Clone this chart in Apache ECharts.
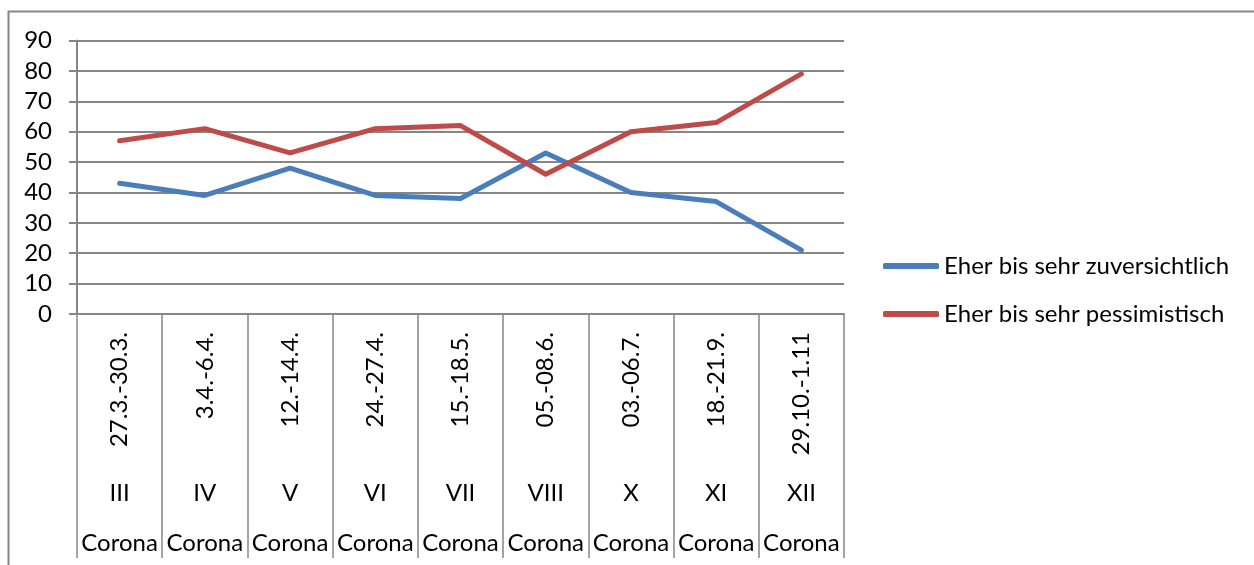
<!DOCTYPE html>
<html>
<head>
<meta charset="utf-8">
<script src="https://cdn.jsdelivr.net/npm/echarts@6/dist/echarts.min.js"></script>
<style>
  html, body { margin: 0; padding: 0; background: #fff; }
  #chart { width: 1254px; height: 565px; }
</style>
</head>
<body>
<div id="chart"></div>
<script>
// Survey waves: date range, wave number and study name
const dateRanges = ['27.3.-30.3.', '3.4.-6.4.', '12.-14.4.', '24.-27.4.', '15.-18.5.', '05.-08.6.', '03.-06.7.', '18.-21.9.', '29.10.-1.11'];
const waves = ['III', 'IV', 'V', 'VI', 'VII', 'VIII', 'X', 'XI', 'XII'];
const studies = ['Corona', 'Corona', 'Corona', 'Corona', 'Corona', 'Corona', 'Corona', 'Corona', 'Corona'];

// Share of respondents (%)
const confident = [43, 39, 48, 39, 38, 53, 40, 37, 21];
const pessimistic = [57, 61, 53, 61, 62, 46, 60, 63, 79];

const seriesNames = ['Eher bis sehr zuversichtlich', 'Eher bis sehr pessimistisch'];

const FONT = 'Lato';
const FS = 24;
const GRAY = '#868686';
const BLUE = '#4A7EBB';
const RED = '#BE4B48';

const chart = echarts.init(document.getElementById('chart'), null, { renderer: 'canvas' });

const labelOnlyAxis = (data, margin) => ({
  type: 'category',
  data: data,
  position: 'bottom',
  gridIndex: 0,
  boundaryGap: true,
  axisLine: { show: false },
  axisTick: { show: false },
  splitLine: { show: false },
  axisLabel: {
    interval: 0,
    margin: margin,
    verticalAlign: 'middle',
    color: '#000',
    fontFamily: FONT,
    fontSize: FS
  }
});

chart.setOption({
  animation: false,
  backgroundColor: '#fff',
  textStyle: { fontFamily: FONT },
  grid: { left: 77, right: 410, top: 40.5, bottom: 251, containLabel: false },
  legend: {
    orient: 'vertical',
    left: 883,
    top: 254,
    padding: 0,
    icon: 'roundRect',
    itemWidth: 56,
    itemHeight: 6,
    itemGap: 24,
    data: seriesNames,
    textStyle: { color: '#000', fontFamily: FONT, fontSize: FS }
  },
  xAxis: [
    {
      type: 'category',
      data: dateRanges,
      position: 'bottom',
      boundaryGap: true,
      axisLine: { show: true, lineStyle: { color: GRAY, width: 2 } },
      axisTick: { show: true, interval: 0, length: 244, lineStyle: { color: GRAY, width: 1.5 } },
      splitLine: { show: false },
      axisLabel: {
        interval: 0,
        rotate: 90,
        margin: 18,
        color: '#000',
        fontFamily: FONT,
        fontSize: FS
      }
    },
    labelOnlyAxis(waves, 179),
    labelOnlyAxis(studies, 229)
  ],
  yAxis: {
    type: 'value',
    min: 0,
    max: 90,
    interval: 10,
    axisLine: { show: true, lineStyle: { color: GRAY, width: 2 } },
    axisTick: { show: true, length: 8, lineStyle: { color: GRAY, width: 2 } },
    splitLine: { show: true, lineStyle: { color: GRAY, width: 2 } },
    axisLabel: { margin: 25, color: '#000', fontFamily: FONT, fontSize: FS }
  },
  series: [
    {
      name: seriesNames[0],
      type: 'line',
      data: confident,
      symbol: 'none',
      lineStyle: { color: BLUE, width: 5, cap: 'round', join: 'round' },
      itemStyle: { color: BLUE }
    },
    {
      name: seriesNames[1],
      type: 'line',
      data: pessimistic,
      symbol: 'none',
      lineStyle: { color: RED, width: 5, cap: 'round', join: 'round' },
      itemStyle: { color: RED }
    }
  ],
  graphic: [
    {
      type: 'polyline',
      silent: true,
      shape: { points: [[8.5, 565], [8.5, 11.5], [1254, 11.5]] },
      style: { stroke: GRAY, lineWidth: 2, fill: null }
    }
  ]
});
</script>
</body>
</html>
